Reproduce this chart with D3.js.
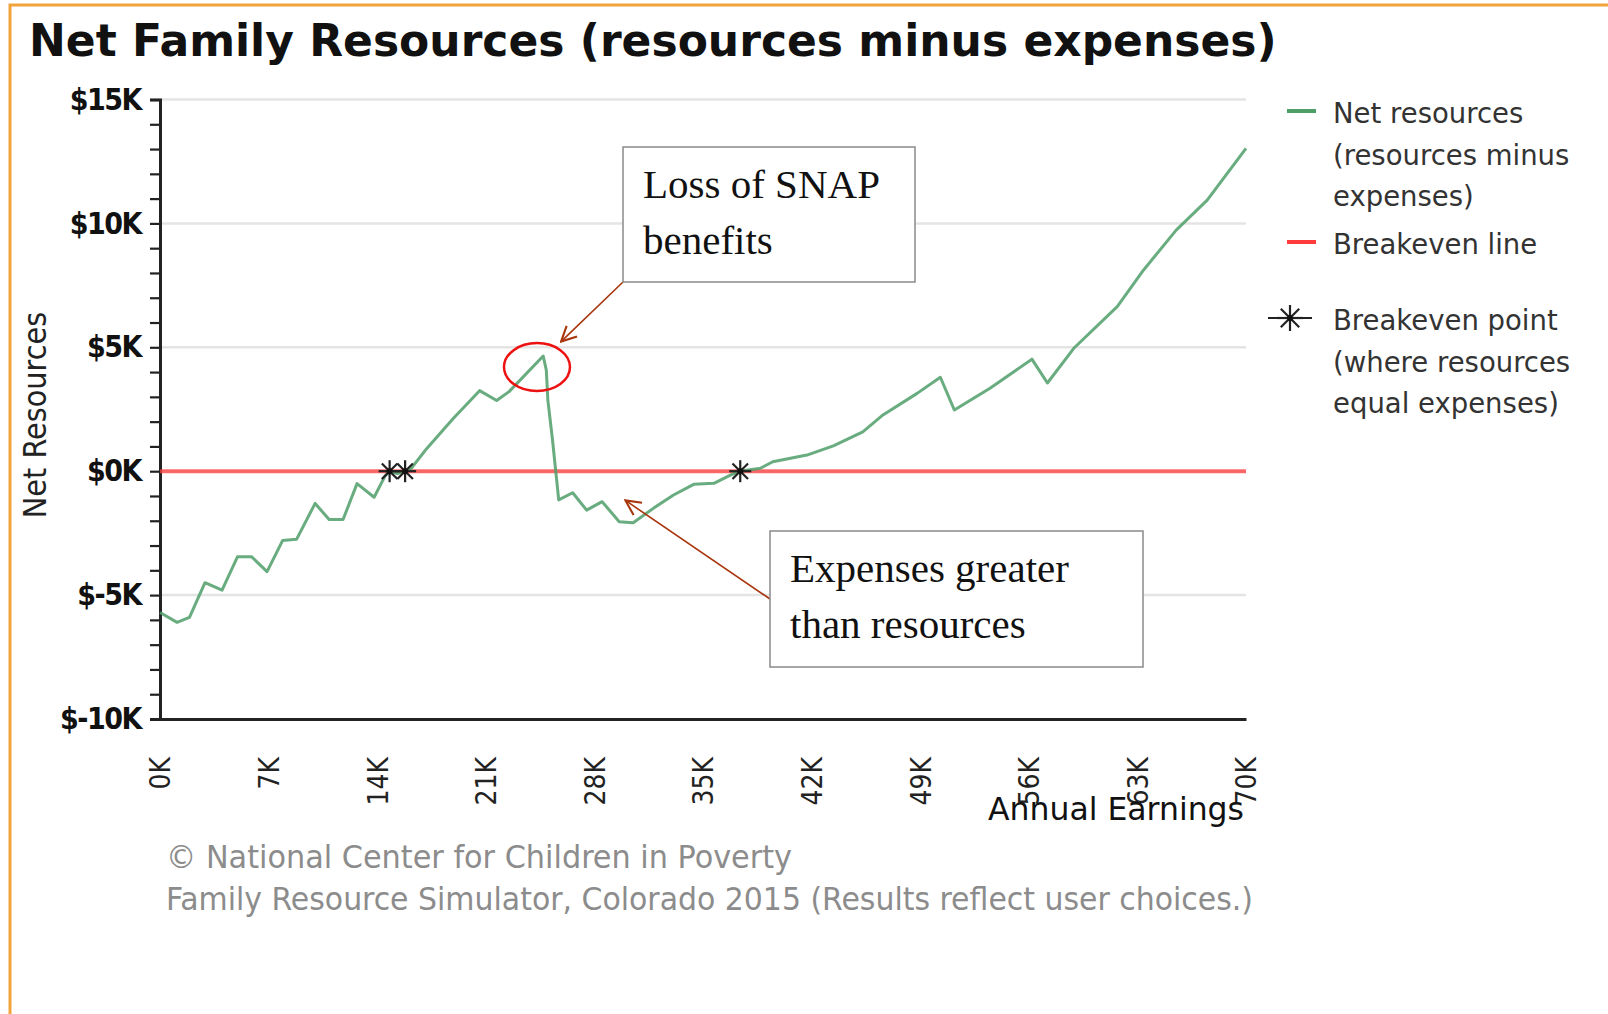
<!DOCTYPE html>
<html>
<head>
<meta charset="utf-8">
<script src="https://d3js.org/d3.v7.min.js"></script>
<style>
  body { margin: 0; background: #fff; }
  svg { display: block; }
</style>
</head>
<body>
<div id="chart"></div>
<script>
// Net resources by annual earnings (dollars)
const earnings = [0, 1100, 1900, 2900, 4000, 5000, 5900, 6900, 7900, 8800, 10000, 10900, 11800, 12700,
  13800, 14500, 14800, 15300, 15800, 16200, 17200, 18900, 20600, 21700, 22500, 24700, 24900, 25000,
  25300, 25500, 25700, 26600, 27500, 28500, 29600, 30500, 31800, 33100, 34400, 35700, 36800, 37400,
  38700, 39500, 41700, 43400, 45300, 46600, 48800, 50300, 51200, 53500, 56200, 57200, 58900, 61700,
  63400, 65500, 67500, 70000];
const netResources = [-5700, -6100, -5900, -4500, -4800, -3450, -3450, -4050, -2800, -2750, -1300, -1950, -1950, -500,
  -1050, -200, 0, -100, 0, 120, 920, 2130, 3250, 2850, 3210, 4650, 4080, 2870,
  1260, 50, -1160, -870, -1570, -1230, -2040, -2080, -1500, -960, -530, -490, -150, 0,
  120, 380, 650, 1020, 1590, 2270, 3140, 3790, 2470, 3350, 4520, 3560, 4960, 6640,
  8120, 9730, 10940, 13030];
const breakevenPoints = [14800, 15800, 37400];

const xTickValues = [0, 7000, 14000, 21000, 28000, 35000, 42000, 49000, 56000, 63000, 70000];
const xTickLabels = ["0K", "7K", "14K", "21K", "28K", "35K", "42K", "49K", "56K", "63K", "70K"];
const yTickValues = [-10000, -5000, 0, 5000, 10000, 15000];
const yTickLabels = ["$-10K", "$-5K", "$0K", "$5K", "$10K", "$15K"];

const legendItems = [
  { type: "line", color: "#4e9e68", lines: ["Net resources", "(resources minus", "expenses)"] },
  { type: "line", color: "#ff3b3b", lines: ["Breakeven line"] },
  { type: "star", color: "#222", lines: ["Breakeven point", "(where resources", "equal expenses)"] }
];

const width = 1608, height = 1014;
const condensed = "'DejaVu Sans Condensed', 'DejaVu Sans', sans-serif";

const svg = d3.select("#chart").append("svg")
    .attr("width", width)
    .attr("height", height);

// orange frame
svg.append("rect")
    .attr("x", 10).attr("y", 5)
    .attr("width", 1700).attr("height", 1100)
    .attr("fill", "none")
    .attr("stroke", "#f2a43c")
    .attr("stroke-width", 3);

svg.append("text")
    .attr("x", 29).attr("y", 56)
    .attr("font-family", "'DejaVu Sans', sans-serif")
    .attr("font-weight", "bold")
    .attr("font-size", 44)
    .attr("fill", "#111")
    .text("Net Family Resources (resources minus expenses)");

const x = d3.scaleLinear().domain([0, 70000]).range([160, 1246]);
const y = d3.scaleLinear().domain([-10000, 15000]).range([719, 99.5]);

// gridlines
svg.append("g")
  .selectAll("line")
  .data(yTickValues.filter(v => v !== -10000))
  .join("line")
    .attr("x1", x(0)).attr("x2", x(70000))
    .attr("y1", d => y(d)).attr("y2", d => y(d))
    .attr("stroke", "#e4e4e4")
    .attr("stroke-width", 2.5);

// y axis with a minor tick every $1K
const yAxis = svg.append("g")
    .attr("transform", `translate(${x(0)},0)`)
    .call(d3.axisLeft(y)
      .tickValues(d3.range(-10000, 15001, 1000))
      .tickSize(10)
      .tickPadding(9)
      .tickFormat(d => {
        const i = yTickValues.indexOf(d);
        return i >= 0 ? yTickLabels[i] : "";
      }));
yAxis.select(".domain").attr("stroke", "#222").attr("stroke-width", 3);
yAxis.selectAll(".tick line").attr("stroke", "#222").attr("stroke-width", 2.2);
yAxis.selectAll(".tick text")
    .attr("font-family", condensed)
    .attr("font-weight", "bold")
    .attr("font-size", 30)
    .attr("letter-spacing", -1.5)
    .attr("fill", "#111");

// x axis, labels rotated
const xAxis = svg.append("g")
    .attr("transform", `translate(0,${y(-10000)})`)
    .call(d3.axisBottom(x)
      .tickValues(xTickValues)
      .tickSize(0)
      .tickFormat((d, i) => xTickLabels[i]));
xAxis.select(".domain").attr("stroke", "#222").attr("stroke-width", 3);
xAxis.selectAll(".tick text")
    .attr("transform", "rotate(-90)")
    .attr("x", -38).attr("y", 0).attr("dy", "0.35em")
    .attr("text-anchor", "end")
    .attr("font-family", condensed)
    .attr("font-size", 28)
    .attr("fill", "#222");

svg.append("text")
    .attr("x", 1244).attr("y", 820)
    .attr("text-anchor", "end")
    .attr("font-family", condensed)
    .attr("font-size", 32)
    .attr("textLength", 256)
    .attr("lengthAdjust", "spacingAndGlyphs")
    .attr("fill", "#111")
    .text("Annual Earnings");

svg.append("text")
    .attr("transform", "translate(46,415) rotate(-90)")
    .attr("text-anchor", "middle")
    .attr("font-family", condensed)
    .attr("font-size", 32)
    .attr("fill", "#222")
    .text("Net Resources");

// breakeven line
svg.append("line")
    .attr("x1", x(0)).attr("x2", x(70000))
    .attr("y1", y(0)).attr("y2", y(0))
    .attr("stroke", "#ff3b3b")
    .attr("stroke-opacity", 0.75)
    .attr("stroke-width", 4);

// net resources line
const data = earnings.map((e, i) => ({ e, v: netResources[i] }));
svg.append("path")
    .datum(data)
    .attr("fill", "none")
    .attr("stroke", "#4e9e68")
    .attr("stroke-opacity", 0.85)
    .attr("stroke-width", 3)
    .attr("stroke-linejoin", "round")
    .attr("d", d3.line().x(d => x(d.e)).y(d => y(d.v)));

// asterisk marker
function star(g, r) {
  d3.range(4).forEach(k => {
    const a = k * Math.PI / 4;
    g.append("line")
      .attr("x1", -r * Math.cos(a)).attr("y1", -r * Math.sin(a))
      .attr("x2", r * Math.cos(a)).attr("y2", r * Math.sin(a))
      .attr("stroke", "#222").attr("stroke-width", 2.2);
  });
  g.append("circle").attr("r", 3).attr("fill", "#111");
}

svg.append("g")
  .selectAll("g")
  .data(breakevenPoints)
  .join("g")
    .attr("transform", d => `translate(${x(d)},${y(0)})`)
    .each(function() { star(d3.select(this), 11); });

// legend
const legend = svg.append("g")
    .attr("font-family", "'DejaVu Sans', sans-serif")
    .attr("font-size", 27.5)
    .attr("fill", "#333");
const legendTop = [123, 254, 330];
legendItems.forEach((item, i) => {
  const g = legend.append("g").attr("transform", `translate(0,${legendTop[i]})`);
  if (item.type === "line") {
    g.append("line")
      .attr("x1", 1287).attr("x2", 1316)
      .attr("y1", -12).attr("y2", -12)
      .attr("stroke", item.color).attr("stroke-width", 4);
  } else {
    const s = g.append("g").attr("transform", "translate(1290,-12)");
    s.append("line").attr("x1", -22).attr("x2", 22).attr("stroke", "#222").attr("stroke-width", 2);
    star(s, 13);
  }
  item.lines.forEach((t, j) => {
    g.append("text").attr("x", 1333).attr("y", j * 41.5).text(t);
  });
});

// footer
const foot = svg.append("g")
    .attr("font-family", condensed)
    .attr("font-size", 32)
    .attr("fill", "#8c8c8c");
foot.append("text").attr("x", 166).attr("y", 868)
    .attr("textLength", 626).attr("lengthAdjust", "spacingAndGlyphs")
    .text("© National Center for Children in Poverty");
foot.append("text").attr("x", 166).attr("y", 910)
    .attr("textLength", 1087).attr("lengthAdjust", "spacingAndGlyphs")
    .text("Family Resource Simulator, Colorado 2015 (Results reflect user choices.)");

// annotations
const arrowColor = "#a8350c";
svg.append("defs").append("marker")
    .attr("id", "arrow")
    .attr("viewBox", "0 0 12 12")
    .attr("refX", 11).attr("refY", 6)
    .attr("markerWidth", 18).attr("markerHeight", 18)
    .attr("markerUnits", "userSpaceOnUse")
    .attr("orient", "auto")
  .append("path")
    .attr("d", "M1,1 L11,6 L1,11")
    .attr("fill", "none")
    .attr("stroke", arrowColor)
    .attr("stroke-width", 1.4);

svg.append("ellipse")
    .attr("cx", x(24300)).attr("cy", y(4200))
    .attr("rx", 33).attr("ry", 24)
    .attr("fill", "none")
    .attr("stroke", "#ee1111")
    .attr("stroke-width", 2.5);

const notes = [
  { box: [623, 147, 292, 135], text: ["Loss of SNAP", "benefits"], from: [623, 282], to: [25850, 5230] },
  { box: [770, 531, 373, 136], text: ["Expenses greater", "than resources"], from: [770, 599], to: [30000, -1180] }
];
notes.forEach(n => {
  svg.append("line")
    .attr("x1", n.from[0]).attr("y1", n.from[1])
    .attr("x2", x(n.to[0])).attr("y2", y(n.to[1]))
    .attr("stroke", arrowColor)
    .attr("stroke-width", 1.6)
    .attr("marker-end", "url(#arrow)");
  svg.append("rect")
    .attr("x", n.box[0]).attr("y", n.box[1])
    .attr("width", n.box[2]).attr("height", n.box[3])
    .attr("fill", "#fff")
    .attr("stroke", "#8a8a8a")
    .attr("stroke-width", 1.5);
  n.text.forEach((t, j) => {
    svg.append("text")
      .attr("x", n.box[0] + 20).attr("y", n.box[1] + 51 + j * 56)
      .attr("font-family", "'Liberation Serif', serif")
      .attr("font-size", 41)
      .attr("fill", "#111")
      .text(t);
  });
});
</script>
</body>
</html>
